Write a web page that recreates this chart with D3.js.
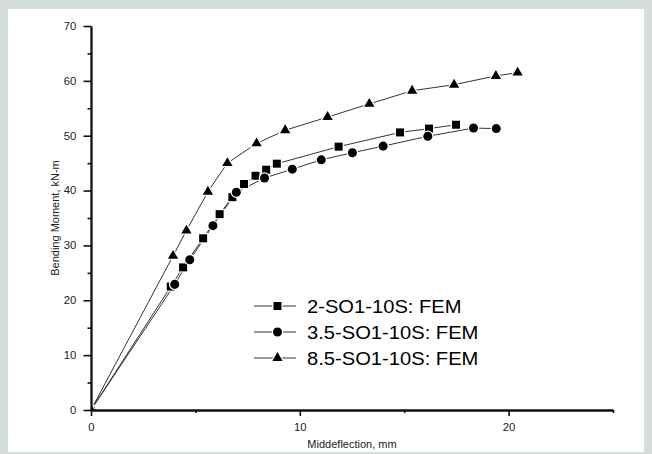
<!DOCTYPE html>
<html>
<head>
<meta charset="utf-8">
<script src="https://cdnjs.cloudflare.com/ajax/libs/d3/7.8.5/d3.min.js"></script>
<style>
  body { margin: 0; background: #d6dedd; }
  svg { display: block; font-family: "Liberation Sans", Arial, sans-serif; }
</style>
</head>
<body>
<div id="chart"></div>
<script>
// values: deflection (mm) and bending moment (kN-m)
var seriesNames = ["2-SO1-10S: FEM", "3.5-SO1-10S: FEM", "8.5-SO1-10S: FEM"];

var squareX = [0, 3.82, 4.41, 5.37, 6.16, 6.77, 7.33, 7.88, 8.39, 8.9, 11.86, 14.8, 16.19, 17.48];
var squareY = [0, 22.5, 26.0, 31.3, 35.7, 38.8, 41.2, 42.7, 43.8, 44.9, 48.0, 50.6, 51.3, 52.0];

var circleX = [0, 4.01, 4.73, 5.84, 6.96, 8.31, 9.64, 11.03, 12.52, 13.99, 16.13, 18.32, 19.41];
var circleY = [0, 22.9, 27.4, 33.6, 39.7, 42.3, 43.9, 45.6, 46.9, 48.1, 49.9, 51.4, 51.3];

var triangleX = [0, 3.93, 4.57, 5.6, 6.53, 7.93, 9.3, 11.33, 13.33, 15.38, 17.39, 19.39, 20.43];
var triangleY = [0, 28.1, 32.7, 39.8, 45.0, 48.6, 51.0, 53.4, 55.8, 58.2, 59.3, 60.9, 61.5];

var xMajorTicks = [0, 10, 20];
var xMinorTicks = [5, 15, 25];
var yMajorTicks = [0, 10, 20, 30, 40, 50, 60, 70];
var yMinorTicks = [5, 15, 25, 35, 45, 55, 65];

var width = 652,
    height = 454;

var svg = d3.select("#chart").append("svg")
    .attr("width", width)
    .attr("height", height);

// white card on the grey page
svg.append("rect")
    .attr("x", 8)
    .attr("y", 9)
    .attr("width", 636)
    .attr("height", 443)
    .attr("fill", "white");

var xScale = d3.scaleLinear().domain([0, 25]).range([91, 613]);
var yScale = d3.scaleLinear().domain([0, 70]).range([410, 26]);

svg.append("clipPath")
    .attr("id", "plotClip")
  .append("rect")
    .attr("x", xScale(0))
    .attr("y", yScale(70))
    .attr("width", xScale(25) - xScale(0))
    .attr("height", yScale(0) - yScale(70));

function zip(xs, ys) {
  return xs.map(function(x, i) { return {x: x, y: ys[i]}; });
}

var series = [
  {name: seriesNames[0], data: zip(squareX, squareY), symbol: d3.symbol().type(d3.symbolSquare).size(64)},
  {name: seriesNames[1], data: zip(circleX, circleY), symbol: d3.symbol().type(d3.symbolCircle).size(64)},
  {name: seriesNames[2], data: zip(triangleX, triangleY), symbol: d3.symbol().type(d3.symbolTriangle).size(46)}
];

var valueline = d3.line()
    .x(function(d) { return xScale(d.x); })
    .y(function(d) { return yScale(d.y); });

var plot = svg.append("g").attr("clip-path", "url(#plotClip)");

series.forEach(function(s) {
  plot.append("path")
      .datum(s.data)
      .attr("fill", "none")
      .attr("stroke", "#333")
      .attr("stroke-width", 1)
      .attr("d", valueline);
});

// markers with a thin white halo so the line stops short of them
series.forEach(function(s) {
  plot.selectAll(null)
      .data(s.data)
      .enter().append("path")
      .attr("transform", function(d) { return "translate(" + xScale(d.x) + "," + yScale(d.y) + ")"; })
      .attr("d", s.symbol)
      .attr("fill", "#000")
      .attr("stroke", "white")
      .attr("stroke-width", 2.5)
      .style("paint-order", "stroke");
});

// axes: labelled major ticks and short unlabelled minor ticks
function styleAxis(g) {
  g.selectAll("path.domain").attr("stroke", "#111").attr("stroke-width", 1.8);
  g.selectAll(".tick line").attr("stroke", "#111").attr("stroke-width", 1.6);
  g.selectAll(".tick text")
      .attr("fill", "#222")
      .style("font-size", "10.5px")
      .attr("transform", "scale(1.08,1)");
}

svg.append("g")
    .attr("transform", "translate(0," + yScale(0) + ")")
    .call(d3.axisBottom(xScale).tickValues(xMinorTicks).tickSize(3).tickSizeOuter(0).tickFormat(""))
    .call(styleAxis);

svg.append("g")
    .attr("transform", "translate(0," + yScale(0) + ")")
    .call(d3.axisBottom(xScale).tickValues(xMajorTicks).tickSize(6).tickSizeOuter(0).tickPadding(8).tickFormat(d3.format("d")))
    .call(styleAxis);

svg.append("g")
    .attr("transform", "translate(" + xScale(0) + ",0)")
    .call(d3.axisLeft(yScale).tickValues(yMinorTicks).tickSize(3.5).tickSizeOuter(0).tickFormat(""))
    .call(styleAxis);

svg.append("g")
    .attr("transform", "translate(" + xScale(0) + ",0)")
    .call(d3.axisLeft(yScale).tickValues(yMajorTicks).tickSize(7.5).tickSizeOuter(0).tickPadding(6).tickFormat(d3.format("d")))
    .call(styleAxis);

// axis titles
svg.append("text")
    .attr("x", (xScale(0) + xScale(25)) / 2)
    .attr("y", 448)
    .attr("text-anchor", "middle")
    .attr("fill", "#222")
    .style("font-size", "11px")
    .text("Middeflection, mm");

svg.append("text")
    .attr("transform", "translate(59," + (yScale(0) + yScale(70)) / 2 + ") rotate(-90)")
    .attr("text-anchor", "middle")
    .attr("fill", "#222")
    .style("font-size", "11px")
    .text("Bending Moment, kN-m");

// legend
var legend = svg.append("g").attr("transform", "translate(254,306)");

series.forEach(function(s, i) {
  var row = legend.append("g").attr("transform", "translate(0," + i * 26 + ")");
  row.append("line")
      .attr("x1", 0).attr("x2", 42)
      .attr("stroke", "#333")
      .attr("stroke-width", 1);
  row.append("path")
      .attr("transform", "translate(23.5,0)")
      .attr("d", s.symbol)
      .attr("fill", "#000")
      .attr("stroke", "white")
      .attr("stroke-width", 2.5)
      .style("paint-order", "stroke");
  row.append("text")
      .attr("transform", "translate(53,6.5) scale(1.12,1)")
      .attr("fill", "#000")
      .style("font-size", "18px")
      .text(s.name);
});
</script>
</body>
</html>
